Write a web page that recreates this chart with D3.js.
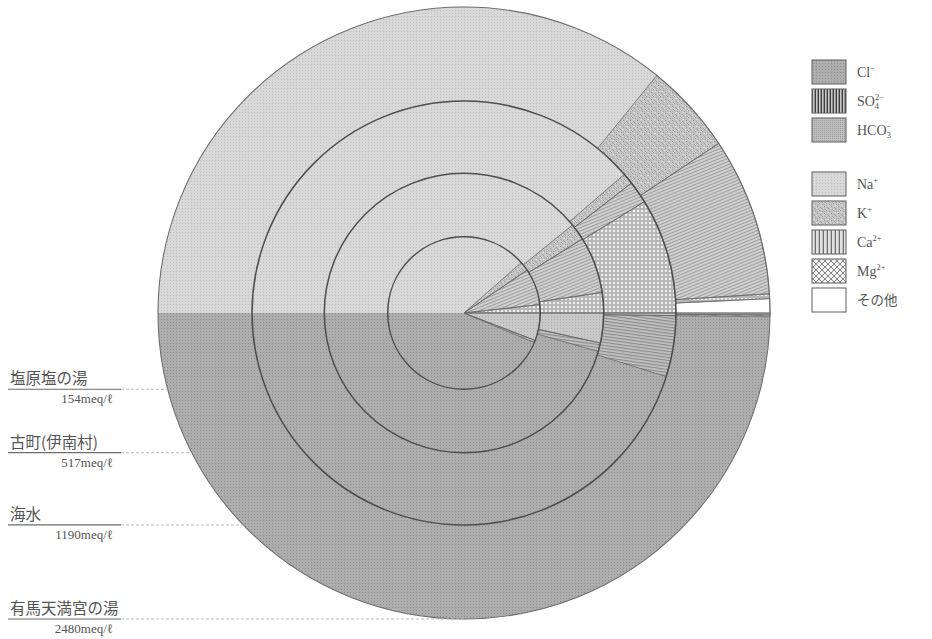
<!DOCTYPE html>
<html>
<head>
<meta charset="utf-8">
<script src="https://cdn.jsdelivr.net/npm/d3@7"></script>
<style>
  html, body { margin: 0; padding: 0; background: #fff; }
  svg { display: block; }
</style>
</head>
<body>
<script>
// Water samples, drawn as nested half-and-half pies (cations on top, anions below).
const samples = ["塩原塩の湯", "古町(伊南村)", "海水", "有馬天満宮の湯"];
const totals = [154, 517, 1190, 2480];           // meq/ℓ, disc area ∝ total
const unit = "meq/ℓ";

// Cation shares (% of cation equivalents)
const na    = [77.0, 78.3, 77.3, 71.7];
const k     = [4.0,  3.9,  1.7,  9.6];
const ca    = [15.5, 13.1, 3.4,  16.7];
const mg    = [3.5,  4.7,  17.6, 0.5];
const other = [0,    0,    0,    1.5];

// Anion shares (% of anion equivalents)
const cl   = [87.3, 91.1, 90.3, 99.6];
const so4  = [1.0,  2.0,  9.3,  0.2];
const hco3 = [11.7, 6.9,  0.4,  0.2];

const cationKeys = ["na", "k", "ca", "mg", "other"];
const anionKeys = ["cl", "so4", "hco3"];

const W = 932, H = 639;
const cx = 464, cy = 313, R = 306;

const svg = d3.select("body").append("svg")
  .attr("width", W).attr("height", H)
  .attr("viewBox", `0 0 ${W} ${H}`);

// ---------- fill textures ----------
const defs = svg.append("defs");

function dotPattern(id, base, dot, size, dotSize) {
  const p = defs.append("pattern").attr("id", id)
    .attr("patternUnits", "userSpaceOnUse").attr("width", size).attr("height", size);
  p.append("rect").attr("width", size).attr("height", size).attr("fill", base);
  p.append("rect").attr("width", dotSize).attr("height", dotSize).attr("fill", dot);
}
function linePattern(id, base, ink, period, width, angle) {
  const p = defs.append("pattern").attr("id", id)
    .attr("patternUnits", "userSpaceOnUse").attr("width", period).attr("height", period)
    .attr("patternTransform", `rotate(${angle})`);
  p.append("rect").attr("width", period).attr("height", period).attr("fill", base);
  p.append("rect").attr("width", period).attr("height", width).attr("fill", ink);
}

dotPattern("p-na", "#d8d8d8", "#c0c0c0", 3, 1);
dotPattern("p-cl", "#adadad", "#8f8f8f", 3, 1);
dotPattern("p-hco3", "#c8c8c8", "#b0b0b0", 3, 1);
dotPattern("p-hco3-legend", "#bdbdbd", "#a0a0a0", 2, 1);

// speckled grain for K+
(function () {
  const s = 7;
  const p = defs.append("pattern").attr("id", "p-k")
    .attr("patternUnits", "userSpaceOnUse").attr("width", s).attr("height", s);
  p.append("rect").attr("width", s).attr("height", s).attr("fill", "#c3c3c3");
  const specks = [[0,0,"#9a9a9a"],[3,1,"#a8a8a8"],[5,3,"#959595"],[1,4,"#aaaaaa"],
                  [4,5,"#dcdcdc"],[6,0,"#d6d6d6"],[2,2,"#dedede"],[6,6,"#9f9f9f"],
                  [0,6,"#d9d9d9"],[3,6,"#b0b0b0"],[5,1,"#acacac"],[1,2,"#d4d4d4"],
                  [2,5,"#a1a1a1"],[4,3,"#d0d0d0"]];
  specks.forEach(([x, y, c]) => p.append("rect").attr("x", x).attr("y", y)
    .attr("width", 1).attr("height", 1).attr("fill", c));
})();

linePattern("p-ca", "#d0d0d0", "#9c9c9c", 3, 1, -22);
linePattern("p-so4", "#c4c4c4", "#8a8a8a", 3, 1.2, 8);
linePattern("p-ca-legend", "#e2e2e2", "#6f6f6f", 4, 1.3, 90);
linePattern("p-so4-legend", "#c8c8c8", "#3f3f3f", 3, 1.4, 90);

// white-dotted check for Mg2+
(function () {
  const p = defs.append("pattern").attr("id", "p-mg")
    .attr("patternUnits", "userSpaceOnUse").attr("width", 4).attr("height", 4);
  p.append("rect").attr("width", 4).attr("height", 4).attr("fill", "#b8b8b8");
  p.append("rect").attr("x", 1).attr("y", 1).attr("width", 2).attr("height", 2).attr("fill", "#f0f0f0");
})();
// crosshatch for the Mg2+ key
(function () {
  const p = defs.append("pattern").attr("id", "p-mg-legend")
    .attr("patternUnits", "userSpaceOnUse").attr("width", 6).attr("height", 6);
  p.append("rect").attr("width", 6).attr("height", 6).attr("fill", "#f4f4f4");
  p.append("path").attr("d", "M0,0L6,6M6,0L0,6").attr("stroke", "#777").attr("stroke-width", 0.9);
})();

const fills = {
  na: "url(#p-na)", k: "url(#p-k)", ca: "url(#p-ca)", mg: "url(#p-mg)", other: "#ffffff",
  cl: "url(#p-cl)", so4: "url(#p-so4)", hco3: "url(#p-hco3)"
};
const legendFills = {
  cl: "url(#p-cl)", so4: "url(#p-so4-legend)", hco3: "url(#p-hco3-legend)",
  na: "url(#p-na)", k: "url(#p-k)", ca: "url(#p-ca-legend)", mg: "url(#p-mg-legend)", other: "#ffffff"
};

// ---------- pies ----------
const rScale = d3.scaleSqrt().domain([0, d3.max(totals)]).range([0, R]);

// cations sweep clockwise from 9 o'clock over the top; anions sweep the other way underneath
const cationPie = d3.pie().sort(null).value(d => d.v)
  .startAngle(-Math.PI / 2).endAngle(Math.PI / 2);
const anionPie = d3.pie().sort(null).value(d => d.v)
  .startAngle(1.5 * Math.PI).endAngle(0.5 * Math.PI);

const series = { na, k, ca, mg, other, cl, so4, hco3 };
const order = d3.range(samples.length).sort((a, b) => totals[b] - totals[a]);

const chart = svg.append("g").attr("transform", `translate(${cx},${cy})`);

order.forEach(i => {
  const r = rScale(totals[i]);
  const arc = d3.arc().innerRadius(0).outerRadius(r);
  const g = chart.append("g").attr("class", "sample");

  const slices = cationPie(cationKeys.map(key => ({ key, v: series[key][i] })))
    .concat(anionPie(anionKeys.map(key => ({ key, v: series[key][i] }))))
    .filter(d => d.value > 0);

  // fills first
  g.selectAll("path.fill").data(slices).join("path")
    .attr("class", "fill")
    .attr("d", arc)
    .attr("fill", d => fills[d.data.key]);

  // outlines of the minor constituents
  g.selectAll("path.edge").data(slices.filter(d => d.data.key !== "na" && d.data.key !== "cl"))
    .join("path")
    .attr("class", "edge")
    .attr("d", arc)
    .attr("fill", "none")
    .attr("stroke", "#6a6a6a")
    .attr("stroke-width", 0.8)
    .attr("stroke-linejoin", "round");

  // boundary circle of this sample
  g.append("circle")
    .attr("r", r)
    .attr("fill", "none")
    .attr("stroke", i === order[0] ? "#6e6e6e" : "#4d4d4d")
    .attr("stroke-width", i === order[0] ? 1.1 : 1.5);
});

// ---------- sample labels with leaders ----------
const labels = svg.append("g").attr("font-family", "'Noto Sans CJK JP', 'Noto Sans', sans-serif");
samples.forEach((name, i) => {
  const ly = cy + rScale(totals[i]);          // level of this disc's lowest point
  const dy = ly - cy;
  const edgeX = cx - Math.sqrt(Math.max(0, R * R - dy * dy));
  labels.append("line")
    .attr("x1", 8).attr("x2", 121).attr("y1", ly).attr("y2", ly)
    .attr("stroke", "#6d6d6d").attr("stroke-width", 1.2);
  labels.append("line")
    .attr("x1", 121).attr("x2", edgeX).attr("y1", ly).attr("y2", ly)
    .attr("stroke", "#bdbdbd").attr("stroke-width", 1).attr("stroke-dasharray", "3,2");
  labels.append("text")
    .attr("x", 10).attr("y", ly - 5)
    .attr("font-size", 15.5).attr("fill", "#555")
    .text(name);
  labels.append("text")
    .attr("x", 113).attr("y", ly + 14)
    .attr("text-anchor", "end")
    .attr("font-family", "'Liberation Serif', 'DejaVu Serif', serif")
    .attr("font-size", 13).attr("fill", "#555")
    .text(totals[i] + unit);
});

// ---------- legend ----------
const legendKeys = ["cl", "so4", "hco3", "na", "k", "ca", "mg", "other"];
// [text, role]: "sup" raised, "sub" lowered beneath the preceding raised part
const legendText = [
  [["Cl", ""], ["−", "sup"]],
  [["SO", ""], ["2−", "sup"], ["4", "sub"]],
  [["HCO", ""], ["−", "sup"], ["3", "sub"]],
  [["Na", ""], ["+", "sup"]],
  [["K", ""], ["+", "sup"]],
  [["Ca", ""], ["2+", "sup"]],
  [["Mg", ""], ["2+", "sup"]],
  [["その他", "jp"]]
];
const legendY = [60, 89, 118, 172, 201, 230, 259, 288];

const legend = svg.append("g").attr("class", "legend");
legendKeys.forEach((key, j) => {
  const y = legendY[j];
  legend.append("rect")
    .attr("x", 812).attr("y", y).attr("width", 34).attr("height", 24)
    .attr("fill", legendFills[key])
    .attr("stroke", "#6a6a6a").attr("stroke-width", 1.1);
  const t = legend.append("text")
    .attr("x", 857).attr("y", y + 17)
    .attr("font-family", "'Liberation Serif', 'DejaVu Serif', serif")
    .attr("font-size", 14).attr("fill", "#555");
  let supW = 0;
  legendText[j].forEach(([s, kind]) => {
    const ts = t.append("tspan").text(s);
    if (kind === "sup") {
      ts.attr("font-size", 8.5).attr("dy", -6);
      supW = s.length * 4.6;
    } else if (kind === "sub") {
      ts.attr("font-size", 8.5).attr("dx", -supW).attr("dy", 9);
    } else if (kind === "jp") {
      ts.attr("font-family", "'Noto Sans CJK JP', sans-serif").attr("font-size", 13.5);
    }
  });
});
</script>
</body>
</html>
